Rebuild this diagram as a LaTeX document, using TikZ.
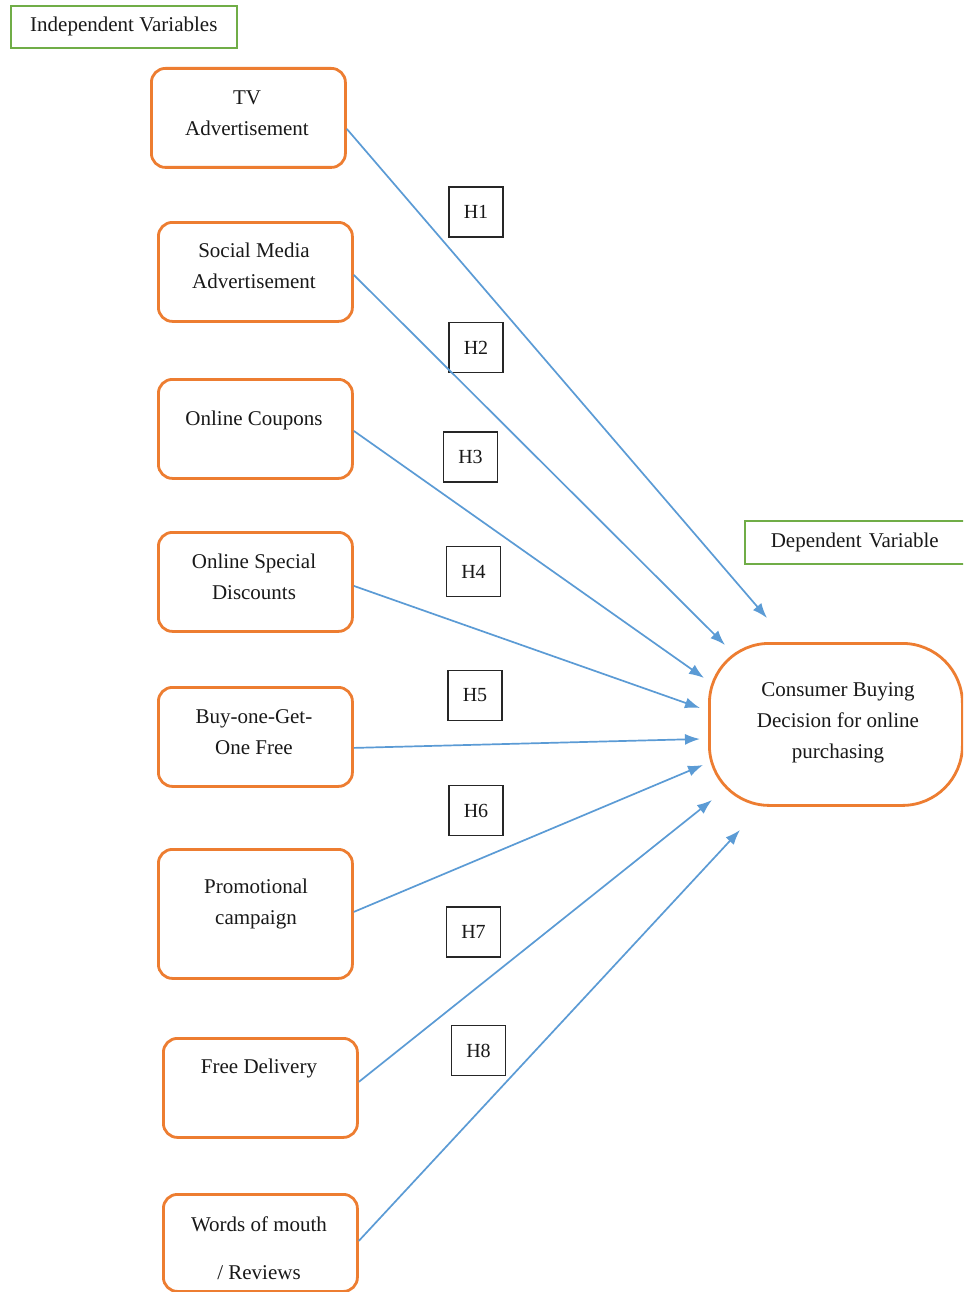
\documentclass[tikz,border=0pt]{standalone}
\usepackage{fontspec}
\setmainfont{Liberation Serif}
\usetikzlibrary{arrows.meta}
\definecolor{orng}{RGB}{237,125,49}
\definecolor{blu}{RGB}{91,155,213}
\definecolor{grn}{RGB}{112,173,71}
\definecolor{txtc}{RGB}{25,25,25}
\begin{document}
\begin{tikzpicture}[x=1pt,y=-1pt,
  ivbox/.style={draw=orng, line width=2.8pt, rounded corners=14pt, minimum width=194pt, minimum height=99pt, anchor=north west, inner sep=0pt},
  dvbox/.style={draw=orng, line width=2.8pt, rounded corners=60pt, minimum width=253pt, minimum height=162pt, anchor=north west, inner sep=0pt},
  txt/.style={font=\fontsize{21}{31}\selectfont, align=center, inner sep=0pt, text=txtc},
  gbox/.style={draw=grn, line width=1.6pt, anchor=north west, inner sep=0pt, font=\fontsize{21}{31}\selectfont, text=txtc},
  hbox/.style={draw=black!85, line width=1.1pt, minimum width=54pt, minimum height=50pt, inner sep=0pt, font=\fontsize{20}{24}\selectfont, text=txtc},
  arr/.style={draw=blu, line width=1.7pt, -{Latex[length=15pt,width=11pt]}}
]
\clip (0,0) rectangle (963,1292);
\fill[white] (0,0) rectangle (963,1292);

% header boxes
\node[gbox, minimum width=226pt, minimum height=42pt] (iv) at (10,5) {Independent Variables};
\node[gbox, minimum width=240pt, minimum height=43pt, text width=222pt, align=left] (dv) at (744,520) {\hspace*{17pt}Dependent Variable};

% independent variable boxes
\node[ivbox] (tv) at (150,67) {};
\node[ivbox] (sm) at (157,221) {};
\node[ivbox] (oc) at (157,378) {};
\node[ivbox] (od) at (157,531) {};
\node[ivbox] (bg) at (157,686) {};
\node[ivbox, minimum height=129pt] (pc) at (157,848) {};
\node[ivbox] (fd) at (162,1037) {};
\node[ivbox, minimum height=97pt] (wm) at (162,1193) {};

% dependent variable box
\node[dvbox] (cb) at (708,642) {};

% box texts
\node[txt] (tvt) at (247,113) {TV\\Advertisement};
\node[txt] (smt) at (254,266) {Social Media\\Advertisement};
\node[txt] (oct) at (254,420) {Online Coupons};
\node[txt] (odt) at (254,577) {Online Special\\Discounts};
\node[txt] (bgt) at (254,732) {Buy-one-Get-\\One Free};
\node[txt] (pct) at (256,904) {Promotional\\campaign};
\node[txt] (fdt) at (259,1068) {Free Delivery};
\node[txt] (wmt) at (259,1248) {Words of mouth\\[17pt]/ Reviews};
\node[txt] (cbt) at (838,723) {Consumer Buying\\Decision for online\\purchasing};

% hypothesis labels
\node[hbox] (h1) at (476,212) {H1};
\node[hbox] (h2) at (476,347.5) {H2};
\node[hbox] (h3) at (470.5,457) {H3};
\node[hbox] (h4) at (473.5,571.5) {H4};
\node[hbox] (h5) at (475,695.5) {H5};
\node[hbox] (h6) at (476,810.5) {H6};
\node[hbox] (h7) at (473.5,932) {H7};
\node[hbox] (h8) at (478.5,1050.5) {H8};

% arrow tips
\coordinate (t1) at (767,618);
\coordinate (t2) at (725,645);
\coordinate (t3) at (704,678);
\coordinate (t4) at (700,708);
\coordinate (t5) at (700,739);
\coordinate (t6) at (703,765);
\coordinate (t7) at (712,800);
\coordinate (t8) at (740,830);

\draw[arr] ([yshift=-11pt]tv.east) -- (t1);
\draw[arr] ([yshift=-3pt]sm.east) -- (t2);
\draw[arr] ([yshift=-2pt]oc.east) -- (t3);
\draw[arr] ([yshift=-4pt]od.east) -- (t4);
\draw[arr] ([yshift=-11pt]bg.east) -- (t5);
\draw[arr] ([yshift=2pt]pc.east) -- (t6);
\draw[arr] ([yshift=6pt]fd.east) -- (t7);
\draw[arr] ([yshift=2pt]wm.east) -- (t8);
\end{tikzpicture}
\end{document}
